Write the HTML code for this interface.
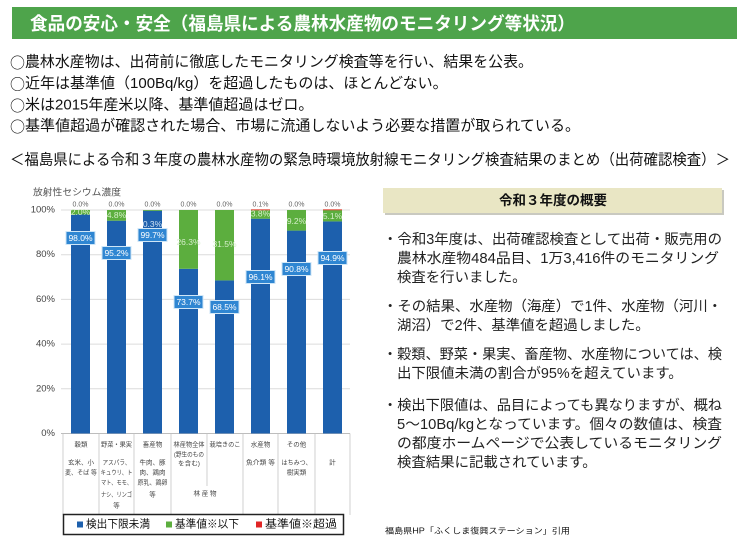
<!DOCTYPE html>
<html><head><meta charset="utf-8"><style>
html,body{margin:0;padding:0;background:#fff;}
svg{display:block;font-family:"Liberation Sans","Noto Sans CJK JP",sans-serif;}
</style></head><body>
<svg width="750" height="553" viewBox="0 0 750 553" xmlns="http://www.w3.org/2000/svg">
<rect width="750" height="553" fill="#fff"/>
<!-- header band -->
<rect x="12" y="7" width="725" height="32" fill="#4ea44b"/>
<text x="30" y="24" dominant-baseline="central" font-size="18" font-weight="bold" fill="#fff" textLength="545" lengthAdjust="spacingAndGlyphs">食品の安心・安全（福島県による農林水産物のモニタリング等状況）</text>
<!-- bullets -->
<g font-size="15" fill="#111" dominant-baseline="central">
<text x="10" y="62" textLength="523" lengthAdjust="spacingAndGlyphs"><tspan font-family="Noto Sans CJK JP">○</tspan>農林水産物は、出荷前に徹底したモニタリング検査等を行い、結果を公表。</text>
<text x="10" y="83.5"><tspan font-family="Noto Sans CJK JP">○</tspan>近年は基準値（100Bq/kg）を超過したものは、ほとんどない。</text>
<text x="10" y="105"><tspan font-family="Noto Sans CJK JP">○</tspan>米は2015年産米以降、基準値超過はゼロ。</text>
<text x="10" y="126" textLength="570" lengthAdjust="spacingAndGlyphs"><tspan font-family="Noto Sans CJK JP">○</tspan>基準値超過が確認された場合、市場に流通しないよう必要な措置が取られている。</text>
<text x="10" y="160" textLength="720" lengthAdjust="spacingAndGlyphs">＜福島県による令和３年度の農林水産物の緊急時環境放射線モニタリング検査結果のまとめ（出荷確認検査）＞</text>
</g>

<!-- chart -->
<text x="33" y="193" dominant-baseline="central" font-size="9.5" fill="#555" textLength="88" lengthAdjust="spacingAndGlyphs">放射性セシウム濃度</text>
<g stroke="#dcdcdc" stroke-width="1">
<line x1="61" y1="210" x2="350" y2="210"/>
<line x1="61" y1="254.7" x2="350" y2="254.7"/>
<line x1="61" y1="299.4" x2="350" y2="299.4"/>
<line x1="61" y1="344.1" x2="350" y2="344.1"/>
<line x1="61" y1="388.8" x2="350" y2="388.8"/>
</g>
<line x1="61" y1="433.5" x2="350" y2="433.5" stroke="#bdbdbd" stroke-width="1"/>
<g font-size="9.5" fill="#444" text-anchor="end" dominant-baseline="central">
<text x="55" y="210">100%</text>
<text x="55" y="254.7">80%</text>
<text x="55" y="299.4">60%</text>
<text x="55" y="344.1">40%</text>
<text x="55" y="388.8">20%</text>
<text x="55" y="433.5">0%</text>
</g>
<!-- bars -->
<g>
<rect x="71" y="214.5" width="19" height="219" fill="#1d60ad"/>
<rect x="71" y="210" width="19" height="4.5" fill="#5cae3e"/>
<rect x="107" y="220.7" width="19" height="212.8" fill="#1d60ad"/>
<rect x="107" y="210" width="19" height="10.7" fill="#5cae3e"/>
<rect x="143" y="210.7" width="19" height="222.8" fill="#1d60ad"/>
<rect x="143" y="210" width="19" height="0.8" fill="#5cae3e"/>
<rect x="179" y="268.8" width="19" height="164.7" fill="#1d60ad"/>
<rect x="179" y="210" width="19" height="58.8" fill="#5cae3e"/>
<rect x="215" y="280.4" width="19" height="153.1" fill="#1d60ad"/>
<rect x="215" y="210" width="19" height="70.4" fill="#5cae3e"/>
<rect x="251" y="218.7" width="19" height="214.8" fill="#1d60ad"/>
<rect x="251" y="210.2" width="19" height="8.5" fill="#5cae3e"/>
<rect x="251" y="209.3" width="19" height="1" fill="#e0483a"/>
<rect x="287" y="230.6" width="19" height="202.9" fill="#1d60ad"/>
<rect x="287" y="210" width="19" height="20.6" fill="#5cae3e"/>
<rect x="323" y="221.4" width="19" height="212.1" fill="#1d60ad"/>
<rect x="323" y="210" width="19" height="11.4" fill="#5cae3e"/>
<rect x="323" y="209.3" width="19" height="1" fill="#e0483a"/>
</g>
<!-- top labels -->
<g font-size="7" fill="#666" text-anchor="middle" dominant-baseline="central">
<text x="80.5" y="205">0.0%</text>
<text x="116.5" y="205">0.0%</text>
<text x="152.5" y="205">0.0%</text>
<text x="188.5" y="205">0.0%</text>
<text x="224.5" y="205">0.0%</text>
<text x="260.5" y="205">0.1%</text>
<text x="296.5" y="205">0.0%</text>
<text x="332.5" y="205">0.0%</text>
</g>
<!-- green value labels -->
<g font-size="8.5" fill="#d6eecb" text-anchor="middle" dominant-baseline="central">
<text x="80.5" y="212">2.0%</text>
<text x="116.5" y="215">4.8%</text>
<text x="188.5" y="242">26.3%</text>
<text x="224.5" y="244">31.5%</text>
<text x="260.5" y="213.5">3.8%</text>
<text x="296.5" y="221">9.2%</text>
<text x="332.5" y="216">5.1%</text>
</g>
<text x="152.5" y="224" font-size="8.5" fill="#cfe3f6" text-anchor="middle" dominant-baseline="central">0.3%</text>
<!-- blue value labels -->
<g>
<rect x="66" y="231.5" width="29" height="13" fill="#2f86d2" stroke="#cfe6f7" stroke-width="1"/>
<rect x="102" y="246.5" width="29" height="13" fill="#2f86d2" stroke="#cfe6f7" stroke-width="1"/>
<rect x="138" y="228.5" width="29" height="13" fill="#2f86d2" stroke="#cfe6f7" stroke-width="1"/>
<rect x="174" y="295.5" width="29" height="13" fill="#2f86d2" stroke="#cfe6f7" stroke-width="1"/>
<rect x="210" y="300.5" width="29" height="13" fill="#2f86d2" stroke="#cfe6f7" stroke-width="1"/>
<rect x="246" y="270.5" width="29" height="13" fill="#2f86d2" stroke="#cfe6f7" stroke-width="1"/>
<rect x="282" y="262.5" width="29" height="13" fill="#2f86d2" stroke="#cfe6f7" stroke-width="1"/>
<rect x="318" y="251.5" width="29" height="13" fill="#2f86d2" stroke="#cfe6f7" stroke-width="1"/>
</g>
<g font-size="8.5" fill="#fff" text-anchor="middle" dominant-baseline="central">
<text x="80.5" y="238">98.0%</text>
<text x="116.5" y="253">95.2%</text>
<text x="152.5" y="235">99.7%</text>
<text x="188.5" y="302">73.7%</text>
<text x="224.5" y="307">68.5%</text>
<text x="260.5" y="277">96.1%</text>
<text x="296.5" y="269">90.8%</text>
<text x="332.5" y="258">94.9%</text>
</g>
<!-- category table -->
<g stroke="#c4c4c4" stroke-width="0.8">
<line x1="63" y1="433.5" x2="63" y2="515"/>
<line x1="99" y1="433.5" x2="99" y2="515"/>
<line x1="134" y1="433.5" x2="134" y2="515"/>
<line x1="171" y1="433.5" x2="171" y2="515"/>
<line x1="207" y1="433.5" x2="207" y2="486"/>
<line x1="243" y1="433.5" x2="243" y2="515"/>
<line x1="278" y1="433.5" x2="278" y2="515"/>
<line x1="315" y1="433.5" x2="315" y2="515"/>
<line x1="350" y1="433.5" x2="350" y2="515"/>
</g>
<g font-size="6.5" fill="#444" text-anchor="middle" dominant-baseline="central">
<text x="81" y="445">穀類</text>
<text x="81" y="463" textLength="26" lengthAdjust="spacingAndGlyphs">玄米、小</text>
<text x="81" y="473" textLength="32" lengthAdjust="spacingAndGlyphs">麦、そば 等</text>
<text x="116.5" y="445" textLength="31" lengthAdjust="spacingAndGlyphs">野菜・果実</text>
<text x="116.5" y="463" textLength="28" lengthAdjust="spacingAndGlyphs">アスパラ、</text>
<text x="116.5" y="473" textLength="32" lengthAdjust="spacingAndGlyphs">キュウリ、ト</text>
<text x="116.5" y="483" textLength="31" lengthAdjust="spacingAndGlyphs">マト、モモ、</text>
<text x="116.5" y="495" textLength="31" lengthAdjust="spacingAndGlyphs">ナシ、リンゴ</text>
<text x="116.5" y="506">等</text>
<text x="152.5" y="445">畜産物</text>
<text x="152.5" y="463" textLength="26" lengthAdjust="spacingAndGlyphs">牛肉、豚</text>
<text x="152.5" y="473" textLength="26" lengthAdjust="spacingAndGlyphs">肉、鶏肉</text>
<text x="152.5" y="483" textLength="30" lengthAdjust="spacingAndGlyphs">原乳、鶏卵</text>
<text x="152.5" y="495">等</text>
<text x="189" y="445" textLength="31" lengthAdjust="spacingAndGlyphs">林産物全体</text>
<text x="189" y="455" textLength="30" lengthAdjust="spacingAndGlyphs">(野生のもの</text>
<text x="189" y="464" textLength="22" lengthAdjust="spacingAndGlyphs">を含む)</text>
<text x="225" y="445" textLength="31" lengthAdjust="spacingAndGlyphs">栽培きのこ</text>
<text x="205" y="494">林 産 物</text>
<text x="260.5" y="445">水産物</text>
<text x="260.5" y="463" textLength="29" lengthAdjust="spacingAndGlyphs">魚介類 等</text>
<text x="296.5" y="445">その他</text>
<text x="296.5" y="463" textLength="30" lengthAdjust="spacingAndGlyphs">はちみつ、</text>
<text x="296.5" y="473">樹実類</text>
<text x="332.5" y="463">計</text>
</g>
<!-- legend -->
<rect x="63.5" y="514.5" width="280" height="20" fill="#fff" stroke="#222" stroke-width="1.5"/>
<rect x="77" y="521.5" width="6" height="6" fill="#1d60ad"/>
<text x="86" y="524.5" dominant-baseline="central" font-size="11" fill="#111" textLength="64" lengthAdjust="spacingAndGlyphs">検出下限未満</text>
<rect x="166" y="521.5" width="6" height="6" fill="#5cae3e"/>
<text x="175" y="524.5" dominant-baseline="central" font-size="11" fill="#111" textLength="64" lengthAdjust="spacingAndGlyphs">基準値※以下</text>
<rect x="256" y="521.5" width="6" height="6" fill="#e02525"/>
<text x="265" y="524.5" dominant-baseline="central" font-size="11" fill="#111" textLength="72" lengthAdjust="spacingAndGlyphs">基準値※超過</text>

<!-- right panel -->
<rect x="385" y="190" width="339" height="25" fill="#c9c9c0"/>
<rect x="383" y="188" width="339" height="25" fill="#e9e6c4"/>
<text x="553" y="200.5" text-anchor="middle" dominant-baseline="central" font-size="13.5" font-weight="bold" fill="#111">令和３年度の概要</text>
<g font-size="14.4" fill="#222" dominant-baseline="central">
<text x="383" y="240" textLength="339" lengthAdjust="spacingAndGlyphs">・令和3年度は、出荷確認検査として出荷・販売用の</text>
<text x="397" y="259" textLength="322" lengthAdjust="spacingAndGlyphs">農林水産物484品目、1万3,416件のモニタリング</text>
<text x="397" y="278">検査を行いました。</text>
<text x="383" y="307" textLength="339" lengthAdjust="spacingAndGlyphs">・その結果、水産物（海産）で1件、水産物（河川・</text>
<text x="397" y="326">湖沼）で2件、基準値を超過しました。</text>
<text x="383" y="355" textLength="339" lengthAdjust="spacingAndGlyphs">・穀類、野菜・果実、畜産物、水産物については、検</text>
<text x="397" y="374">出下限値未満の割合が95%を超えています。</text>
<text x="383" y="406" textLength="339" lengthAdjust="spacingAndGlyphs">・検出下限値は、品目によっても異なりますが、概ね</text>
<text x="397" y="425" textLength="325" lengthAdjust="spacingAndGlyphs">5～10Bq/kgとなっています。個々の数値は、検査</text>
<text x="397" y="444" textLength="325" lengthAdjust="spacingAndGlyphs">の都度ホームページで公表しているモニタリング</text>
<text x="397" y="463">検査結果に記載されています。</text>
</g>
<text x="385" y="531" dominant-baseline="central" font-size="8" fill="#111" textLength="185" lengthAdjust="spacingAndGlyphs">福島県HP「ふくしま復興ステーション」引用</text>
</svg>
</body></html>
